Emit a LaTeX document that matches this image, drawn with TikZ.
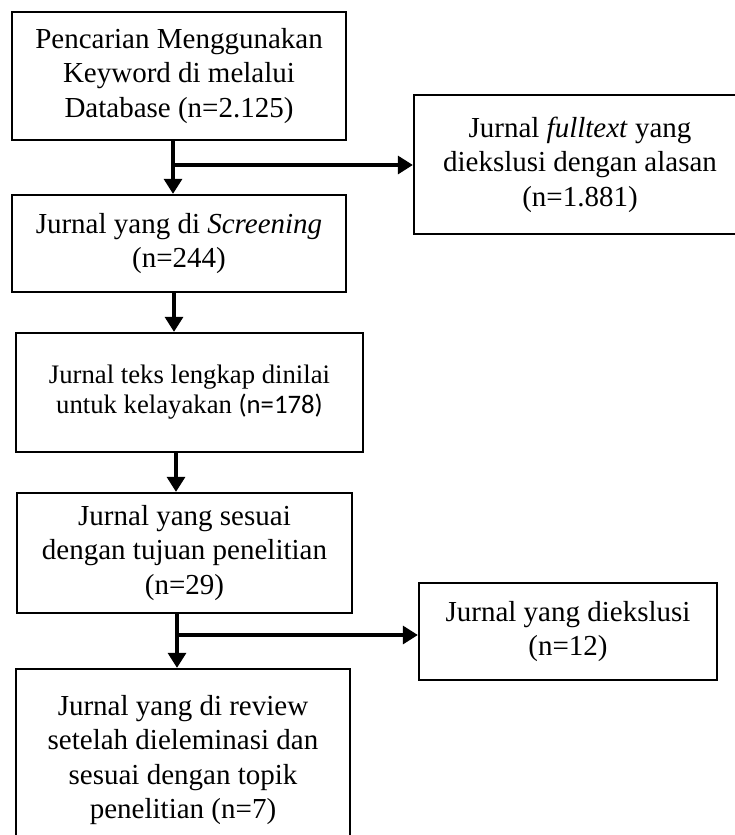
\documentclass[tikz,border=0pt]{standalone}
\usepackage{fontspec}
\setmainfont{Liberation Serif}
\newfontfamily\calibrifont{Carlito}
\usetikzlibrary{arrows.meta}
\begin{document}
\begin{tikzpicture}[x=1pt,y=-1pt,
  box/.style={draw=black,line width=2.3pt,rectangle,align=center,inner sep=0pt,
    font=\fontsize{29}{34.5}\selectfont},
  arr/.style={line width=3.2pt,-{Triangle[width=18pt,length=15pt]}}]
\useasboundingbox (0,0) rectangle (735,835);
\begin{scope}
\clip (0,0) rectangle (735,835);
\node[box,minimum width=334pt,minimum height=128pt] (b1) at (179,76)
  {Pencarian Menggunakan\\Keyword di melalui\\Database (n=2.125)};
\node[box,minimum width=332pt,minimum height=139pt] (b2) at (580,164.5)
  {Jurnal \textit{fulltext} yang\\diekslusi dengan alasan\\(n=1.881)};
\node[box,minimum width=334pt,minimum height=97pt] (b3) at (179,243.5)
  {Jurnal yang di \textit{Screening}\\(n=244)};
\node[box,minimum width=347pt,minimum height=119pt,font=\fontsize{26.7}{30}\selectfont] (b4) at (189.5,392.5)
  {Jurnal teks lengkap dinilai\\untuk kelayakan {\calibrifont(n=178)}};
\node[box,minimum width=335pt,minimum height=120pt] (b5) at (184.5,553)
  {Jurnal yang sesuai\\dengan tujuan penelitian\\(n=29)};
\node[box,minimum width=298pt,minimum height=97pt] (b6) at (568,631.5)
  {Jurnal yang diekslusi\\(n=12)};
\node[box,minimum width=334pt,minimum height=182pt] (b7) at (183,760)
  {Jurnal yang di review\\setelah dieleminasi dan\\sesuai dengan topik\\penelitian (n=7)};
\end{scope}
\coordinate (j1) at (173,165);
\coordinate (a2) at (174,310);
\coordinate (a3) at (176,470);
\coordinate (j2) at (177,635);
\draw[arr] (b1.south -| j1) -- (b3.north -| j1);
\draw[arr] (j1) -- (b2.west |- j1);
\draw[arr] (b3.south -| a2) -- (b4.north -| a2);
\draw[arr] (b4.south -| a3) -- (b5.north -| a3);
\draw[arr] (b5.south -| j2) -- (b7.north -| j2);
\draw[arr] (j2) -- (b6.west |- j2);
\end{tikzpicture}
\end{document}
